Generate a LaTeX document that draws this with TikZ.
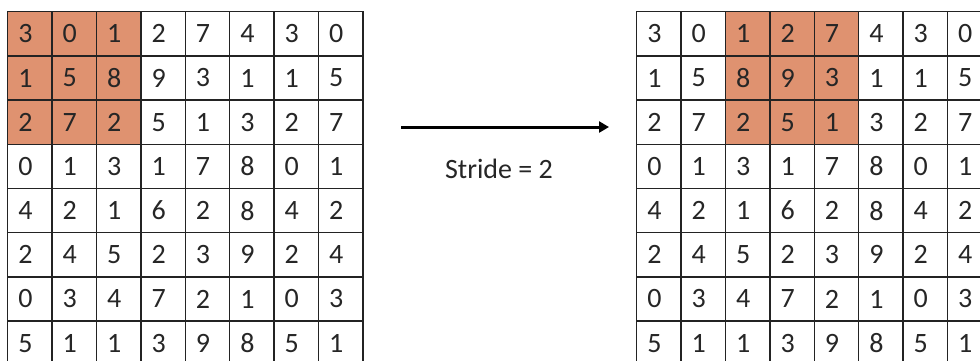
\documentclass[tikz,border=0pt]{standalone}
\usepackage{fontspec}
\setmainfont{Carlito}
\usetikzlibrary{arrows.meta}
\definecolor{hl}{RGB}{223,146,112}
\definecolor{gridc}{RGB}{35,35,35}
\begin{document}
\begin{tikzpicture}[x=1pt,y=-1pt,
  cell/.style={draw=gridc, line width=1.4pt, minimum width=44.4pt, minimum height=44.2pt,
    inner sep=0pt, anchor=north west, text=black!85,
    font=\fontsize{28}{28}\selectfont, execute at begin node={\hspace*{-9pt}}},
  lbl/.style={font=\fontsize{28}{28}\selectfont, text=black!85},
  arr/.style={line width=3pt, -{Triangle[length=10pt,width=11pt]}}]
\useasboundingbox (0,0) rectangle (980,360);
\clip (0,0) rectangle (980,360);
\fill[white] (0,0) rectangle (980,360);
\def\rowsdata{{3,0,1,2,7,4,3,0},{1,5,8,9,3,1,1,5},{2,7,2,5,1,3,2,7},{0,1,3,1,7,8,0,1},{4,2,1,6,2,8,4,2},{2,4,5,2,3,9,2,4},{0,3,4,7,2,1,0,3},{5,1,1,3,9,8,5,1}}
\foreach \row [count=\r] in \rowsdata {
  \foreach \v [count=\c] in \row {
    \ifnum\r<4 \ifnum\c<4 \def\fl{hl}\else\def\fl{white}\fi\else\def\fl{white}\fi
    \node[cell, fill=\fl] (L-\r-\c) at ({7+(\c-1)*44.4},{11+(\r-1)*44.2}) {\v};
    \ifnum\r<4 \ifnum\c>2 \ifnum\c<6 \def\fr{hl}\else\def\fr{white}\fi\else\def\fr{white}\fi\else\def\fr{white}\fi
    \node[cell, fill=\fr] (R-\r-\c) at ({636+(\c-1)*44.4},{11+(\r-1)*44.2}) {\v};
  }
}
\coordinate (a1) at (401,127);
\coordinate (a2) at (609,127);
\draw[arr] (a1) -- (a2);
\node[lbl] (stride) at (499,169) {Stride = 2};
\end{tikzpicture}
\end{document}
